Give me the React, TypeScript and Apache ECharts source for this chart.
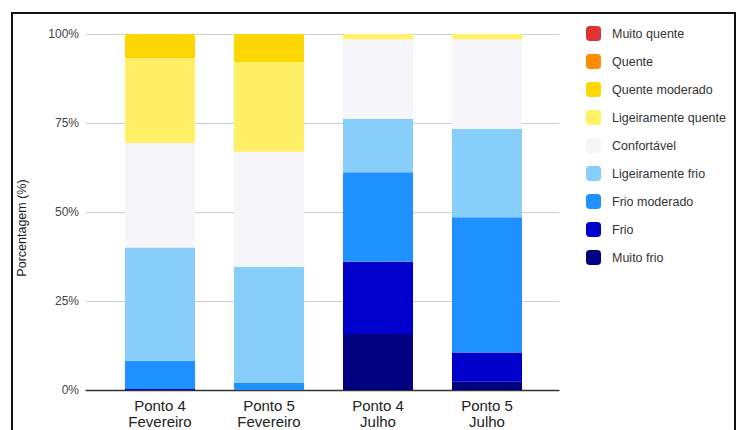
import React, { useEffect, useRef } from "react";
import * as echarts from "echarts";

const categories = ["Ponto 4\nFevereiro", "Ponto 5\nFevereiro", "Ponto 4\nJulho", "Ponto 5\nJulho"];
const yTicks = [0, 25, 50, 75, 100];

const muitoFrio = [0, 0, 15.7, 2.3];
const frio = [0.3, 0, 20.3, 8.2];
const frioModerado = [7.9, 2.0, 25.2, 38.0];
const ligeiramenteFrio = [31.8, 32.6, 14.9, 24.8];
const confortavel = [29.4, 32.3, 22.4, 25.2];
const ligeiramenteQuente = [23.8, 25.2, 1.5, 1.5];
const quenteModerado = [6.8, 7.9, 0, 0];
const quente = [0, 0, 0, 0];
const muitoQuente = [0, 0, 0, 0];

const seriesDefs = [
  { name: "Muito frio", data: muitoFrio, color: "#000080" },
  { name: "Frio", data: frio, color: "#0000CD" },
  { name: "Frio moderado", data: frioModerado, color: "#1E90FF" },
  { name: "Ligeiramente frio", data: ligeiramenteFrio, color: "#87CEFA" },
  { name: "Confortável", data: confortavel, color: "#F5F5FA" },
  { name: "Ligeiramente quente", data: ligeiramenteQuente, color: "#FFF066" },
  { name: "Quente moderado", data: quenteModerado, color: "#FFD700" },
  { name: "Quente", data: quente, color: "#FF8C00" },
  { name: "Muito quente", data: muitoQuente, color: "#DD3333" },
];

const FONT = 'Arial, "Liberation Sans", sans-serif';

export default function App() {
  const ref = useRef<HTMLDivElement>(null);
  useEffect(() => {
    if (!ref.current) return;
    const chart = echarts.init(ref.current, null, { renderer: "svg" });
    const option: any = {
      animation: false,
      backgroundColor: "#ffffff",
      textStyle: { fontFamily: FONT },
      grid: [
        { left: 86, right: 180, top: 34, bottom: 40 },
        { left: 105.5, right: 197.5, top: 34, bottom: 40 },
      ],
      xAxis: [
        {
          gridIndex: 0,
          type: "category",
          data: [""],
          axisLine: { show: true, lineStyle: { color: "#333333", width: 1.3 } },
          axisTick: { show: false },
          axisLabel: { show: false },
          splitLine: { show: false },
        },
        {
          gridIndex: 1,
          type: "category",
          data: categories,
          axisLine: { show: false },
          axisTick: { show: false },
          axisLabel: {
            margin: 7,
            fontSize: 15,
            lineHeight: 16,
            color: "#222222",
            fontFamily: FONT,
          },
        },
      ],
      yAxis: [
        {
          gridIndex: 0,
          type: "value",
          min: yTicks[0],
          max: yTicks[yTicks.length - 1],
          interval: 25,
          axisLine: { show: false },
          axisTick: { show: false },
          axisLabel: {
            formatter: "{value}%",
            margin: 7,
            fontSize: 12,
            color: "#444444",
            fontFamily: FONT,
          },
          splitLine: { lineStyle: { color: "#cccccc", width: 1 } },
        },
        {
          gridIndex: 1,
          type: "value",
          min: 0,
          max: 100,
          show: false,
        },
      ],
      legend: {
        orient: "vertical",
        left: 581,
        top: 21,
        itemWidth: 15,
        itemHeight: 15,
        itemGap: 13,
        icon: "roundRect",
        data: seriesDefs.map((s) => s.name).reverse(),
        textStyle: {
          fontSize: 12.5,
          color: "#333333",
          fontFamily: FONT,
          padding: [0, 0, 0, 6],
        },
      },
      graphic: [
        {
          type: "rect",
          shape: { x: 12, y: 13, width: 723, height: 440 },
          style: { fill: "none", stroke: "#111111", lineWidth: 2 },
          silent: true,
        },
        {
          type: "text",
          x: 22,
          y: 228,
          rotation: Math.PI / 2,
          style: {
            text: "Porcentagem (%)",
            fontSize: 12.5,
            fontFamily: FONT,
            fill: "#222222",
            align: "center",
            verticalAlign: "middle",
          },
        },
      ],
      series: seriesDefs.map((s) => ({
        name: s.name,
        type: "bar",
        stack: "total",
        xAxisIndex: 1,
        yAxisIndex: 1,
        barWidth: 70,
        data: s.data,
        itemStyle: { color: s.color },
      })),
    };
    chart.setOption(option);
    return () => chart.dispose();
  }, []);
  return (
    <div
      ref={ref}
      style={{ position: "absolute", left: 0, top: 0, width: 739, height: 430 }}
    />
  );
}
